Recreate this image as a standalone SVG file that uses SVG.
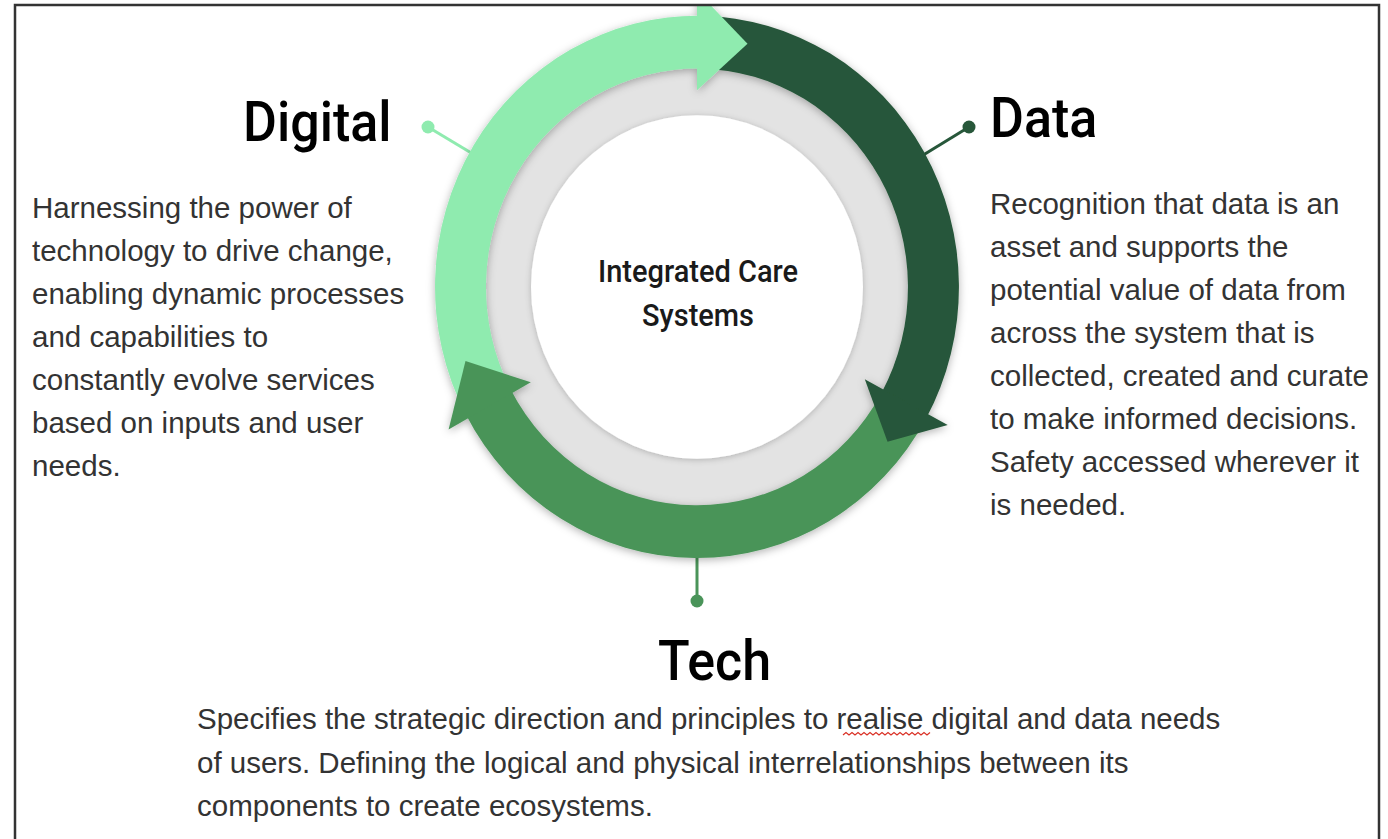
<svg xmlns="http://www.w3.org/2000/svg" width="1388" height="839" viewBox="0 0 1388 839">
  <defs>
    <style>
      .body { font-family: "Liberation Sans", Arial, sans-serif; font-size: 29.5px; fill: #333333; }
      .title { font-family: Roboto, "Liberation Sans", sans-serif; font-weight: 500; font-size: 52px; fill: #000000; }
      .center { font-family: Roboto, "Liberation Sans", sans-serif; font-weight: 500; font-size: 29px; fill: #1a1a1a; }
      .light { fill: #8FEBAF; }
      .dark { fill: #27573A; }
      .mid { fill: #4A9459; }
      .pinL { stroke: #8FEBAF; stroke-width: 3; }
      .pinD { stroke: #27573A; stroke-width: 3; }
      .pinM { stroke: #4A9459; stroke-width: 3; }
    </style>
    <filter id="shadow" x="-20%" y="-20%" width="140%" height="140%">
      <feDropShadow dx="0" dy="2" stdDeviation="4" flood-color="#000" flood-opacity="0.3"/>
    </filter>
    <filter id="softshadow" x="-20%" y="-20%" width="140%" height="140%">
      <feDropShadow dx="0" dy="1" stdDeviation="3" flood-color="#000" flood-opacity="0.22"/>
    </filter>
    <clipPath id="frame">
      <rect x="16" y="6" width="1362" height="840"/>
    </clipPath>
  </defs>

  <rect x="0" y="0" width="1388" height="839" fill="#ffffff"/>

  <g clip-path="url(#frame)">
    <!-- pins (connectors) -->
    <g id="connectors">
      <line class="pinL" x1="428" y1="127" x2="478" y2="157"/>
      <circle class="light" cx="428" cy="127" r="6.5"/>
      <line class="pinD" x1="969" y1="127" x2="920" y2="157"/>
      <circle class="dark" cx="969" cy="127" r="6.5"/>
      <line class="pinM" x1="697" y1="550" x2="697" y2="601"/>
      <circle class="mid" cx="697" cy="601" r="6.5"/>
    </g>

    <!-- central node -->
    <g id="center-node" transform="translate(697,287) scale(1,1.035)">
      <circle cx="0" cy="0" r="222" fill="#E3E3E3"/>
      <circle cx="0" cy="0" r="166" fill="#ffffff" filter="url(#softshadow)"/>
    </g>

    <!-- cycle arrows -->
    <g id="cycle" transform="translate(697,287) scale(1,1.035)" filter="url(#shadow)">
      <path class="light" d="M -231.3 123.0 A 262 262 0 0 1 4.57 -261.96 L 3.68 -210.97 A 211 211 0 0 0 -186.3 99.1 Z"/>
      <path class="dark" d="M 4.57 -261.96 A 262 262 0 0 1 229.1 127.0 L 184.5 102.3 A 211 211 0 0 0 3.68 -210.97 Z"/>
      <path class="mid" d="M 229.1 127.0 A 262 262 0 0 1 -231.3 123.0 L -186.3 99.1 A 211 211 0 0 0 184.5 102.3 Z"/>
      <path class="light" d="M 0 -190 L 0 -286 L 50.5 -235 Z"/>
      <path class="dark" d="M 167.8 89.2 L 250.7 133.3 L 190.5 149.5 Z"/>
      <path class="mid" d="M -166.2 92.1 L -248.4 137.7 L -231.5 71.5 Z"/>
    </g>

    <g id="center-label">
      <text class="center" text-anchor="middle" transform="translate(698,282) scale(1,1.1)">Integrated Care</text>
      <text class="center" text-anchor="middle" transform="translate(698,326) scale(1,1.1)">Systems</text>
    </g>

    <!-- Digital node -->
    <g id="digital">
      <text class="title" transform="translate(243,141) scale(1,1.07)">Digital</text>
      <text class="body" x="32" y="218">Harnessing the power of</text>
      <text class="body" x="32" y="261">technology to drive change,</text>
      <text class="body" x="32" y="304">enabling dynamic processes</text>
      <text class="body" x="32" y="347">and capabilities to</text>
      <text class="body" x="32" y="390">constantly evolve services</text>
      <text class="body" x="32" y="433">based on inputs and user</text>
      <text class="body" x="32" y="476">needs.</text>
    </g>

    <!-- Data node -->
    <g id="data">
      <text class="title" transform="translate(990,137) scale(1,1.07)">Data</text>
      <text class="body" x="990" y="214">Recognition that data is an</text>
      <text class="body" x="990" y="257">asset and supports the</text>
      <text class="body" x="990" y="300">potential value of data from</text>
      <text class="body" x="990" y="343">across the system that is</text>
      <text class="body" x="990" y="386">collected, created and curate</text>
      <text class="body" x="990" y="429">to make informed decisions.</text>
      <text class="body" x="990" y="472">Safety accessed wherever it</text>
      <text class="body" x="990" y="515">is needed.</text>
    </g>

    <!-- Tech node -->
    <g id="tech">
      <text class="title" transform="translate(658,680) scale(1,1.07)">Tech</text>
      <text class="body" x="197" y="729">Specifies the strategic direction and principles to realise digital and data needs</text>
      <text class="body" x="197" y="773">of users. Defining the logical and physical interrelationships between its</text>
      <text class="body" x="197" y="816">components to create ecosystems.</text>
      <polyline points="843,735 846,732.5 849,735 852,732.5 855,735 858,732.5 861,735 864,732.5 867,735 870,732.5 873,735 876,732.5 879,735 882,732.5 885,735 888,732.5 891,735 894,732.5 897,735 900,732.5 903,735 906,732.5 909,735 912,732.5 915,735 918,732.5 921,735 924,732.5 927,735 930,732.5" fill="none" stroke="#d93025" stroke-width="1.2"/>
    </g>
  </g>

  <!-- frame -->
  <rect x="15" y="5" width="1364" height="860" fill="none" stroke="#333333" stroke-width="2.5"/>
</svg>
